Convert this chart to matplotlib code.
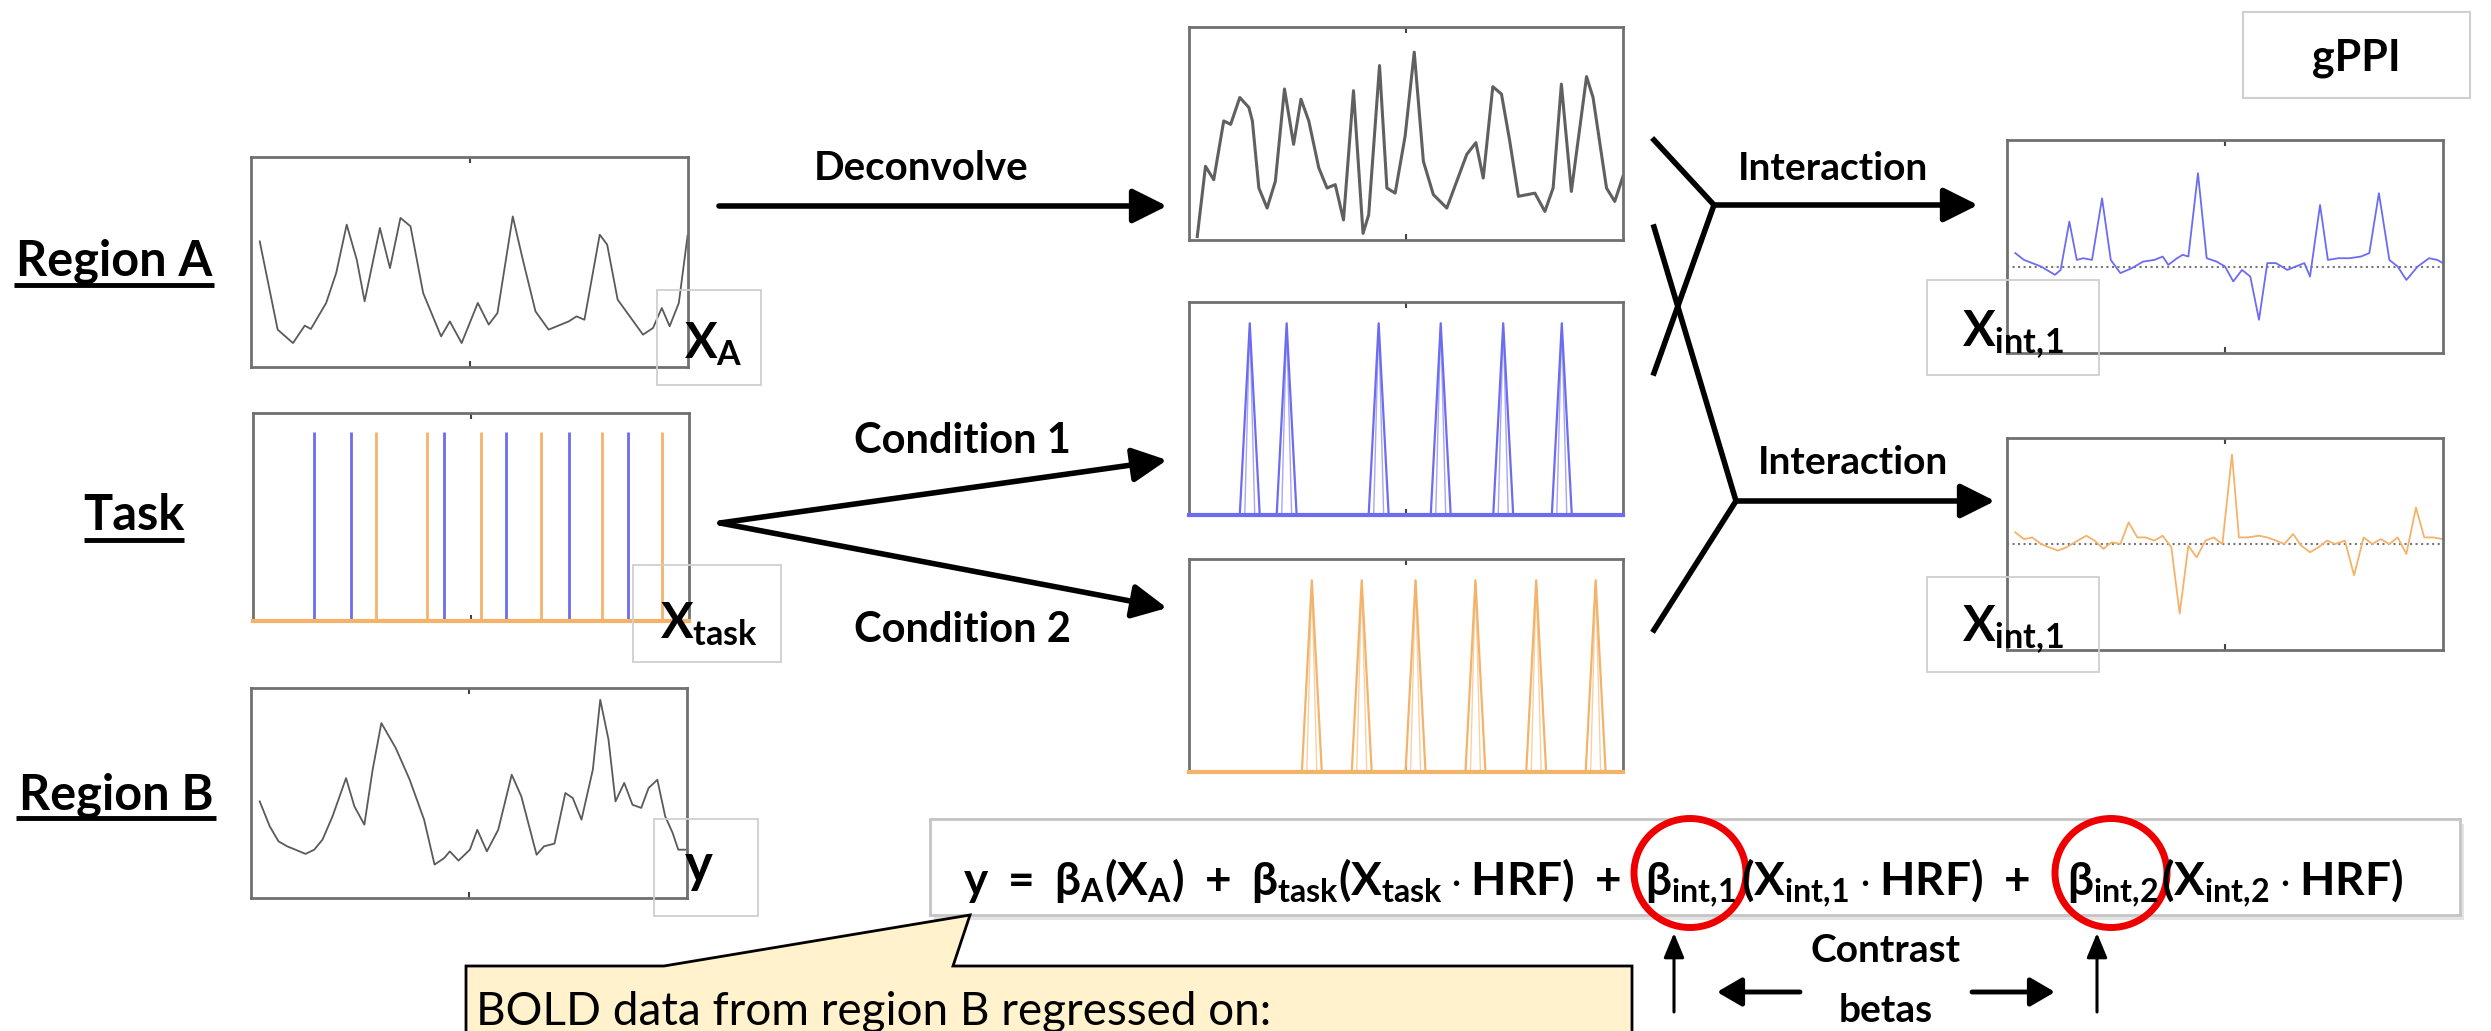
import numpy as np
import matplotlib.pyplot as plt
from matplotlib.patches import Rectangle, Ellipse, Polygon

plt.rcParams['font.family'] = ['Lato', 'DejaVu Sans']
plt.rcParams['mathtext.fontset'] = 'custom'
plt.rcParams['mathtext.rm'] = 'Lato:bold'
plt.rcParams['mathtext.it'] = 'Lato:bold'
plt.rcParams['mathtext.bf'] = 'Lato:bold'
plt.rcParams['mathtext.fallback'] = 'stixsans'

# ---- data (time in scans 0-100, values in panel units) ----
region_a_t = [2.0, 6.1, 9.6, 12.3, 13.7, 17.2, 19.5, 21.9, 24.2, 26.0, 29.5, 31.8, 34.2, 36.5,
              39.4, 43.5, 45.5, 48.2, 51.9, 54.4, 56.4, 59.9, 62.2, 65.1, 68.1, 72.7, 74.5,
              76.3, 79.8, 81.5, 83.9, 89.7, 92.0, 94.0, 95.8, 97.9, 99.9]
region_a_v = [0.598, 0.178, 0.114, 0.197, 0.181, 0.305, 0.448, 0.678, 0.511, 0.313, 0.662, 0.471,
              0.710, 0.670, 0.352, 0.146, 0.217, 0.114, 0.305, 0.202, 0.257, 0.717, 0.511, 0.265,
              0.178, 0.217, 0.241, 0.225, 0.630, 0.583, 0.321, 0.154, 0.186, 0.281, 0.194, 0.305,
              0.625]

region_b_t = [2.0, 4.3, 6.3, 8.3, 10.2, 12.5, 14.5, 16.4, 18.7, 21.8, 23.7, 26.0, 27.9, 29.9,
              33.2, 36.4, 39.7, 42.1, 44.3, 45.6, 47.6, 50.2, 51.9, 54.1, 56.7, 59.8, 62.0,
              65.5, 67.2, 69.6, 72.1, 73.8, 75.8, 78.4, 80.1, 82.0, 83.6, 85.6, 87.5, 89.5,
              91.2, 93.2, 95.0, 96.7, 98.0, 99.6]
region_b_v = [0.460, 0.341, 0.270, 0.246, 0.230, 0.210, 0.230, 0.278, 0.389, 0.571, 0.437, 0.349,
              0.611, 0.833, 0.714, 0.563, 0.373, 0.159, 0.190, 0.222, 0.178, 0.230, 0.325, 0.222,
              0.325, 0.587, 0.484, 0.206, 0.246, 0.259, 0.500, 0.476, 0.373, 0.611, 0.944, 0.754,
              0.460, 0.548, 0.444, 0.429, 0.524, 0.563, 0.389, 0.310, 0.230, 0.230]

deconv_t = [1.9, 3.8, 5.7, 8.0, 9.6, 11.7, 13.8, 14.6, 16.1, 18.0, 19.9, 22.0, 24.1, 25.8, 27.6,
            29.9, 31.8, 33.7, 35.6, 37.9, 40.1, 41.4, 43.9, 45.6, 47.5, 49.8, 51.9, 54.0, 56.3,
            59.4, 64.0, 66.1, 67.8, 70.0, 72.0, 73.9, 75.9, 79.7, 82.0, 83.9, 85.8, 88.1, 91.6,
            93.1, 96.2, 98.1, 100.0]
deconv_v = [0.016, 0.346, 0.283, 0.559, 0.543, 0.669, 0.622, 0.559, 0.244, 0.150, 0.276, 0.709,
            0.449, 0.661, 0.559, 0.339, 0.244, 0.260, 0.094, 0.701, 0.031, 0.118, 0.819, 0.244,
            0.220, 0.488, 0.882, 0.370, 0.213, 0.150, 0.402, 0.457, 0.291, 0.720, 0.685, 0.465,
            0.205, 0.220, 0.134, 0.244, 0.732, 0.228, 0.767, 0.669, 0.244, 0.181, 0.299]

cond1_onsets = [14.0, 22.5, 43.7, 58.0, 72.4, 85.9]
cond2_onsets = [28.3, 39.8, 52.2, 66.0, 80.0, 93.7]
task_height = 0.91
peak_height = 0.90

int1_t = [1.9, 3.9, 5.8, 7.8, 11.0, 12.3, 14.3, 16.0, 17.5, 19.5, 21.8, 23.8, 26.0, 28.6, 31.2,
          33.8, 35.7, 37.0, 39.0, 40.3, 41.6, 43.8, 45.8, 48.1, 50.0, 51.9, 53.9, 55.8, 57.8,
          59.7, 61.7, 64.3, 66.2, 68.2, 69.5, 71.8, 73.6, 76.0, 78.6, 81.2, 83.1, 85.3, 87.7,
          89.6, 91.6, 94.2, 96.8, 98.7, 100.0]
int1_v = [0.063, 0.031, 0.016, 0.0, -0.039, -0.016, 0.211, 0.031, 0.039, 0.031, 0.320, 0.031,
          -0.031, -0.008, 0.023, 0.031, 0.047, 0.008, 0.039, 0.055, 0.047, 0.438, 0.039, 0.023,
          0.0, -0.070, -0.016, -0.047, -0.250, 0.016, 0.016, -0.016, 0.0, 0.016, -0.047, 0.289,
          0.031, 0.039, 0.039, 0.047, 0.063, 0.344, 0.031, 0.0, -0.063, 0.0, 0.039, 0.031, 0.016]

int2_t = [1.9, 3.9, 5.8, 7.8, 9.7, 11.7, 13.6, 16.2, 18.2, 20.1, 22.1, 24.0, 26.0, 27.9, 29.9,
          31.8, 33.8, 35.7, 37.7, 39.6, 41.6, 43.5, 45.5, 47.4, 49.4, 51.6, 53.2, 55.2, 57.8,
          59.7, 61.7, 63.6, 65.6, 67.5, 69.5, 71.4, 73.4, 75.3, 77.5, 79.6, 81.8, 83.8, 85.7,
          87.7, 89.6, 91.6, 93.8, 95.7, 97.7, 100.0]
int2_v = [0.055, 0.023, 0.031, 0.0, -0.016, -0.031, -0.016, 0.016, 0.039, 0.016, -0.023, 0.008,
          0.0, 0.102, 0.031, 0.031, 0.016, 0.039, -0.016, -0.328, -0.008, -0.063, 0.016, 0.031,
          0.0, 0.422, 0.031, 0.031, 0.039, 0.031, 0.016, 0.0, 0.047, -0.008, -0.039, -0.016,
          0.016, 0.0, 0.016, -0.148, 0.031, 0.0, 0.023, 0.0, 0.031, -0.047, 0.172, 0.031, 0.031,
          0.023]

BLUE = '#6c6cf0'
ORANGE = '#f3b36a'
GREY = '#5a5a5a'

W, H = 2491, 1031
fig = plt.figure(figsize=(W / 100, H / 100), dpi=100)


def panel(x0, y0, x1, y1):
    ax = fig.add_axes([x0 / W, 1 - y1 / H, (x1 - x0) / W, (y1 - y0) / H])
    ax.set_xlim(0, 100)
    ax.set_xticks([50])
    ax.set_yticks([])
    ax.tick_params(axis='x', direction='in', length=4, width=1.5, top=True,
                   labelbottom=False, colors='#444')
    for s in ax.spines.values():
        s.set_color('#707070')
        s.set_linewidth(2)
    return ax


def peaks(ax, onsets, color):
    hw = 2.3
    for on in onsets:
        ax.plot([on - hw, on, on + hw], [0, peak_height, 0], color=color, lw=1.6)
        ax.plot([on - hw / 2, on, on + hw / 2], [0, peak_height, 0], color=color, lw=1, alpha=0.6)
    ax.plot([0, 100], [0, 0], color=color, lw=3, clip_on=False, zorder=3)
    ax.set_ylim(0, 1)


# left column
axA = panel(251, 157, 688, 367)
axA.plot(region_a_t, region_a_v, color=GREY, lw=1.3)
axA.set_ylim(0, 1)

axT = panel(253, 413, 689, 621)
axT.vlines(cond1_onsets, 0, task_height, color=BLUE, lw=2)
axT.vlines(cond2_onsets, 0, task_height, color=ORANGE, lw=2)
axT.plot([0, 100], [0, 0], color=ORANGE, lw=3, clip_on=False, zorder=3)
axT.set_ylim(0, 1)

axB = panel(251, 688, 687, 898)
axB.plot(region_b_t, region_b_v, color=GREY, lw=1.3)
axB.set_ylim(0, 1)

# middle column
axD = panel(1189, 27, 1623, 240)
axD.plot(deconv_t, deconv_v, color='#606060', lw=2.2)
axD.set_ylim(0, 1)

axC1 = panel(1189, 302, 1623, 515)
peaks(axC1, cond1_onsets, BLUE)

axC2 = panel(1189, 559, 1623, 772)
peaks(axC2, cond2_onsets, ORANGE)

# right column
axI1 = panel(2007, 140, 2443, 353)
axI1.axhline(0, color='#777', ls=':', lw=1.5)
axI1.plot(int1_t, int1_v, color=BLUE, lw=1.3)
axI1.set_ylim(-0.406, 0.594)

axI2 = panel(2007, 438, 2443, 650)
axI2.axhline(0, color='#777', ls=':', lw=1.5)
axI2.plot(int2_t, int2_v, color=ORANGE, lw=1.3)
axI2.set_ylim(-0.5, 0.5)

# overlay in pixel coordinates
ov = fig.add_axes([0, 0, 1, 1], zorder=10)
ov.set_xlim(0, W)
ov.set_ylim(H, 0)
ov.axis('off')
ov.patch.set_alpha(0)

bold = dict(fontweight='bold', color='black')

# row labels with underline
for txt, cx, base, ul, x0, x1 in [('Region A', 114, 276, 285, 14, 214),
                                  ('Task', 134, 530, 540, 84, 184),
                                  ('Region B', 116, 809, 818, 16, 216)]:
    ov.text(cx, base, txt, fontsize=35, ha='center', va='baseline', **bold)
    ov.plot([x0, x1], [ul, ul], color='black', lw=3.5, solid_capstyle='butt')

# series name boxes
for (bx, by, bw, bh), lab, tx, ty, fs in [((657, 290, 104, 95), r'$X_{A}$', 684, 358, 35),
                                          ((633, 565, 148, 97), r'$X_{task}$', 660, 638, 35),
                                          ((654, 819, 104, 97), r'$y$', 684, 882, 38),
                                          ((1927, 280, 172, 95), r'$X_{int,\!1}$', 1962, 346, 35),
                                          ((1927, 577, 172, 95), r'$X_{int,\!1}$', 1962, 641, 35)]:
    ov.add_patch(Rectangle((bx, by), bw, bh, fill=False, ec='#cfcfcf', lw=1.3))
    ov.text(tx, ty, lab, fontsize=fs, ha='left', va='baseline')

arrow = dict(arrowstyle='-|>,head_length=0.7,head_width=0.35', lw=4, color='black',
             mutation_scale=30, shrinkA=0, shrinkB=0)

ov.annotate('', xy=(1167, 206), xytext=(719, 206), arrowprops=arrow)
ov.text(921, 168, 'Deconvolve', fontsize=29, ha='center', va='center', **bold)

ov.annotate('', xy=(1167, 460), xytext=(720, 523), arrowprops=arrow)
ov.annotate('', xy=(1167, 608), xytext=(720, 523), arrowprops=arrow)
ov.text(962, 441, 'Condition 1', fontsize=30, ha='center', va='center', **bold)
ov.text(962, 630, 'Condition 2', fontsize=30, ha='center', va='center', **bold)

# interaction lines
ov.plot([1654, 1714, 1654], [140, 205, 373], color='black', lw=4, solid_joinstyle='miter')
ov.plot([1654, 1736, 1654], [227, 501, 630], color='black', lw=4, solid_joinstyle='miter')
ov.annotate('', xy=(1978, 205), xytext=(1714, 205), arrowprops=arrow)
ov.annotate('', xy=(1995, 501), xytext=(1736, 501), arrowprops=arrow)
ov.text(1833, 168, 'Interaction', fontsize=28, ha='center', va='center', **bold)
ov.text(1853, 462, 'Interaction', fontsize=28, ha='center', va='center', **bold)

# gPPI box
ov.add_patch(Rectangle((2243, 12), 227, 86, fill=False, ec='#cfcfcf', lw=1.5))
ov.text(2356, 58, 'gPPI', fontsize=31, ha='center', va='center', **bold)

# equation
ov.add_patch(Rectangle((934, 824), 1530, 96, fc='#e4e4e4', ec='none'))
ov.add_patch(Rectangle((930, 819), 1530, 96, fc='white', ec='#c4c4c4', lw=2))
eq_parts = [(963, r'$y\ =\ \beta_{A}(X_{A})\ +\ \beta_{task}(X_{task}\cdot\mathrm{HRF})\ +$'),
            (1645, r'$\beta_{int,\!1}$'),
            (1741, r'$(X_{int,\!1}\cdot\mathrm{HRF})\ +$'),
            (2067, r'$\beta_{int,\!2}$'),
            (2161, r'$(X_{int,\!2}\cdot\mathrm{HRF})$')]
for x, s in eq_parts:
    ov.text(x, 895, s, fontsize=33, ha='left', va='baseline')

for cx in (1690, 2111):
    ov.add_patch(Ellipse((cx, 873), 112, 109, fill=False, ec='#ee0000', lw=5))

up = dict(arrowstyle='-|>,head_length=0.6,head_width=0.25', lw=2.2, color='black',
          mutation_scale=25, shrinkA=0, shrinkB=0)
ov.annotate('', xy=(1674, 933), xytext=(1674, 1012), arrowprops=up)
ov.annotate('', xy=(2097, 933), xytext=(2097, 1012), arrowprops=up)
side = dict(arrowstyle='-|>,head_length=0.6,head_width=0.35', lw=3.5, color='black',
            mutation_scale=25, shrinkA=0, shrinkB=0)
ov.annotate('', xy=(1717, 992), xytext=(1800, 992), arrowprops=side)
ov.annotate('', xy=(2055, 992), xytext=(1972, 992), arrowprops=side)
ov.text(1886, 951, 'Contrast', fontsize=28, ha='center', va='center', **bold)
ov.text(1886, 1010, 'betas', fontsize=28, ha='center', va='center', **bold)

# callout
ov.add_patch(Polygon([(466, 966), (664, 966), (970, 915), (953, 966), (1632, 966),
                      (1632, 1060), (466, 1060)], closed=True, fc='#fff2cc', ec='black', lw=2))
ov.text(476, 1012, 'BOLD data from region B regressed on:', fontsize=33,
        ha='left', va='center', color='black')

fig.savefig('out.png', dpi=100)
